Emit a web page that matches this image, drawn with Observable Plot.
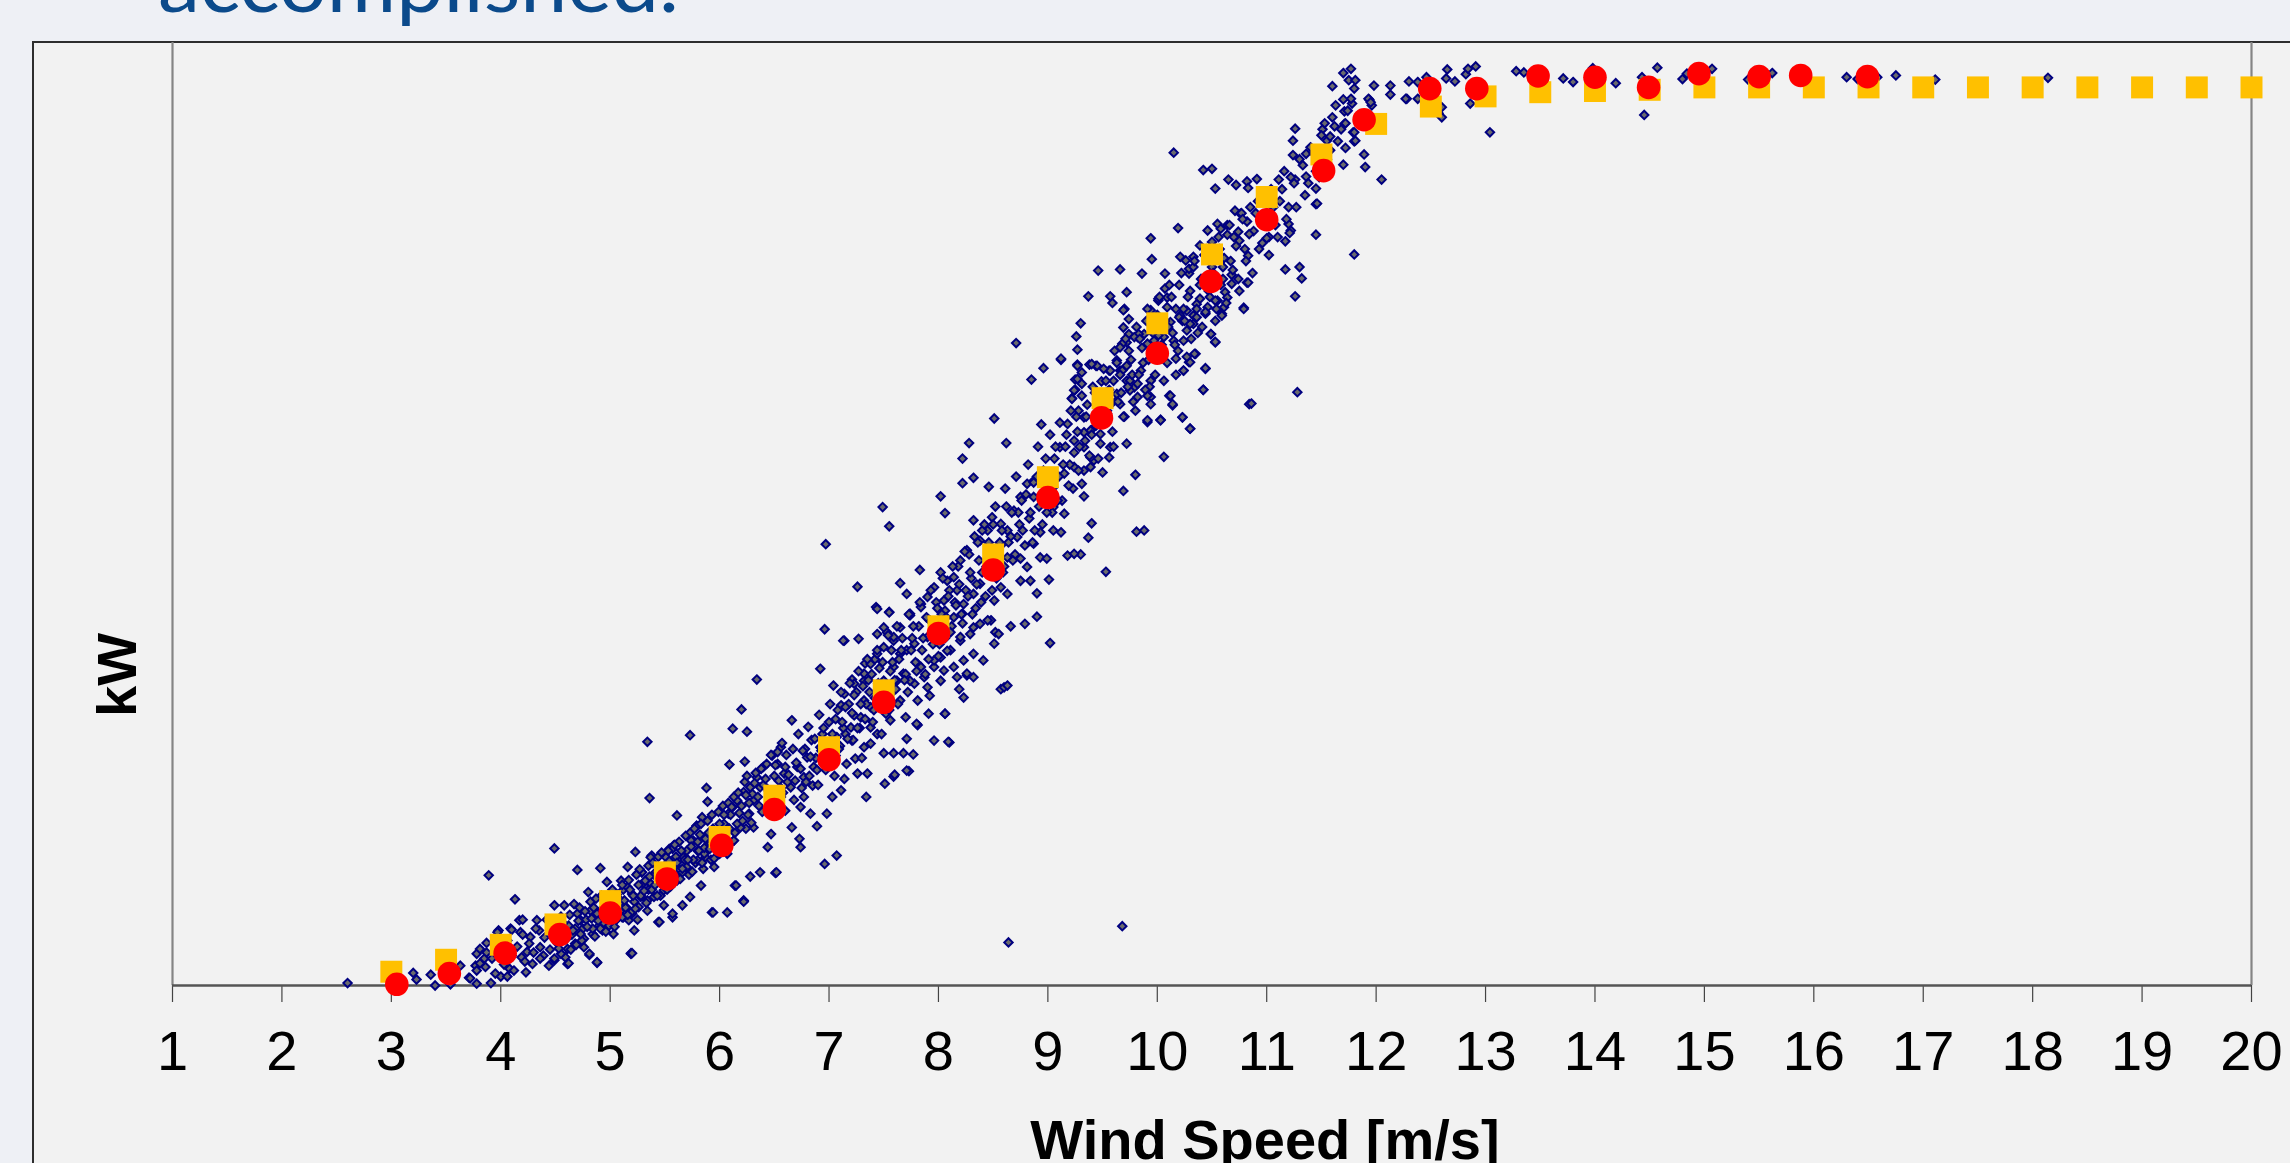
<!DOCTYPE html>
<html>
<head>
<meta charset="utf-8">
<script src="https://cdn.jsdelivr.net/npm/d3@7"></script>
<script src="https://cdn.jsdelivr.net/npm/@observablehq/plot@0.6"></script>
<style>
  html, body { margin: 0; padding: 0; width: 2290px; height: 1163px; overflow: hidden; background: #eef0f5; }
  #box { position: absolute; left: 32px; top: 41px; width: 2300px; height: 1200px; background: #f2f2f2;
         border-left: 2px solid #2e2e2e; border-top: 2px solid #2e2e2e; }
  #chart { position: absolute; left: 0; top: 0; }
  #overlay { position: absolute; left: 0; top: 0; pointer-events: none; }
</style>
</head>
<body>
<div id="box"></div>
<div id="chart"></div>
<svg id="overlay" width="2290" height="1163">
  <text x="158" y="12" font-family="Lato, 'Open Sans', sans-serif" font-size="80" fill="#0b4a8b" textLength="521" lengthAdjust="spacingAndGlyphs">accomplished.</text>
  <text x="1265" y="1159" text-anchor="middle" font-family="'Liberation Sans', Arial, sans-serif" font-weight="bold" font-size="56" fill="#000">Wind Speed [m/s]</text>
  <text transform="translate(136,675) rotate(-90)" text-anchor="middle" font-family="'Liberation Sans', Arial, sans-serif" font-weight="bold" font-size="56" fill="#000">kW</text>
</svg>
<script>
// x-axis ticks
const xTicks = [1,2,3,4,5,6,7,8,9,10,11,12,13,14,15,16,17,18,19,20];

// reference (guaranteed) power curve – yellow squares
const refSpeed = [3,3.5,4,4.5,5,5.5,6,6.5,7,7.5,8,8.5,9,9.5,10,10.5,11,11.5,12,12.5,13,13.5,14,14.5,15,15.5,16,16.5,17,17.5,18,18.5,19,19.5,20];
const refPower = [23,43,68,102,141,189,248,317,398,493,600,720,849,981,1106,1221,1317,1388,1439,1468,1485,1492,1494,1496,1500,1500,1500,1500,1500,1500,1500,1500,1500,1500,1500];

// measured bin averages – red circles
const binSpeed = [3.05,3.53,4.04,4.54,5.0,5.52,6.02,6.5,7.0,7.5,8.0,8.5,9.0,9.49,10.0,10.49,11.0,11.52,11.89,12.49,12.92,13.48,14.0,14.49,14.95,15.5,15.88,16.49];
const binPower = [2,20,54,85,121,178,234,294,377,473,588,694,815,948,1056,1176,1279,1361,1446,1498,1498,1519,1517,1500,1523,1518,1520,1518];

// individual 10-minute measurements – [wind speed, kW]
const measurements = [
[2.60,4],[3.20,21],[3.23,10],[3.36,18],[3.40,0],[3.54,2],[3.63,33],[3.71,13],[3.72,12],[3.78,3],[3.78,53],[3.81,61],[3.87,71],[3.77,33],[3.86,31],[3.89,184],[3.91,4],[3.98,92],[4.00,15],[4.06,15],[4.08,28],[4.09,95],[4.13,144],[4.17,109],[4.18,89],[4.19,47],[4.23,22],[4.24,56],[4.27,81],[4.29,36],[4.33,109],[4.35,92],[4.36,64],[4.39,50],[4.44,33],[4.49,134],[4.49,229],[4.49,42],[4.58,134],[4.59,47],[4.61,36],[4.67,136],[4.70,193],[4.73,109],[4.76,64],[4.80,156],[4.81,51],[4.82,125],[4.88,38],[4.91,196],[4.93,92],[4.97,173],[5.03,86],[5.05,109],[5.12,114],[5.17,109],[5.19,53],[5.20,153],[5.22,92],[5.23,223],[5.25,187],[5.28,148],[5.29,189],[5.34,125],[5.37,170],[5.38,217],[5.44,106],[5.46,150],[5.49,134],[5.54,228],[5.57,114],[5.58,234],[5.66,134],[5.67,214],[5.70,192],[5.73,148],[5.76,242],[5.79,267],[5.83,167],[5.87,214],[5.93,122],[5.95,198],[6.07,122],[6.13,242],[6.14,167],[6.22,142],[6.24,262],
[3.78,25],[3.81,37],[3.85,45],[3.87,55],[3.97,89],[4.10,93],[4.20,110],[4.62,37],[4.88,39],[5.19,54],[5.94,122],[6.22,141],
[5.30,170],[5.35,160],[5.40,185],[5.45,175],[5.50,195],[5.55,165],[5.60,200],[5.62,180],[5.68,210],[5.72,185],[5.78,205],[5.80,225],[5.85,195],[5.90,230],[5.92,210],[5.97,240],[6.00,220],[5.10,140],[5.15,130],[5.20,120],[5.12,160],[5.25,110],[4.95,115],[4.90,100],[4.85,130],[4.75,95],[4.70,120],[4.65,85],[4.55,75],[4.50,100],
[5.34,407],[5.36,313],[5.73,418],[5.61,284],[5.16,198],[5.20,54],[4.81,53],[5.45,106],[5.57,120],[6.22,140],[6.34,511],[6.20,461],[6.12,429],[6.25,424],[6.09,369],[6.23,374],[5.88,330],[5.89,307],[5.79,266],[5.84,281],[5.74,242],[5.57,228],[5.51,214],[5.37,214],[5.29,189],[5.16,164],[6.15,167],[6.28,182],[6.37,189],[6.51,188],[6.44,231],[6.66,443],[6.92,529],[6.96,595],[7.14,576],[7.27,579],[7.04,501],[7.33,538],[7.21,511],[7.11,468],[6.95,370],[7.06,384],[6.98,287],[7.07,217],[6.96,203],[6.89,266],[6.74,231],[6.73,245],[6.52,189],[7.34,315],[7.51,337],[7.59,349],[7.73,358],[7.77,386],[7.68,388],[7.59,388],[7.50,388],[7.71,412],[7.81,435],[7.91,454],[8.06,454],[8.10,406],[8.19,495],[7.92,484],[8.26,518],[8.52,590],[8.57,495],[8.48,610],[8.06,626],[8.22,621],[8.32,554],[8.05,526],[7.81,537],[7.71,560],[7.59,576],[7.53,590],[7.43,632],[7.55,624],[7.74,621],[7.84,637],[7.32,509],[7.42,545],[7.47,498],[7.52,454],[7.38,431],[7.32,476],[7.23,451],[7.15,420],[7.38,404],[7.24,379],[7.14,345],[7.11,326],[7.03,315],[6.85,334],[6.77,315],[6.74,298],[6.60,292],[6.59,354],[6.53,370],[6.56,398],[6.48,384],[6.40,365],[6.34,348],[6.28,331],[6.22,323],[6.16,309],[6.12,298],[6.08,287],[6.04,270],[6.01,253],[5.98,245],[5.92,237],[5.86,220],[5.80,209],[5.70,198],[5.66,189],[5.61,175],[5.55,167],[5.49,159],[5.40,148],[5.34,142],[5.26,131],[5.19,122],[5.11,114],[5.05,109],[4.99,100],[4.91,95],[4.84,86],[4.76,78],[4.68,70],[4.61,61],[4.55,53],[4.49,45],
[6.65,331],[6.71,365],[6.80,381],[6.86,365],[6.92,398],[6.83,287],[6.66,264],[6.47,253],[6.44,298],[6.37,331],[6.31,309],[6.27,287],[6.19,264],[6.13,242],[6.07,220],[6.31,264],[6.56,315],[6.77,348],[6.98,404],[7.07,415],[7.20,431],[7.29,448],[7.38,465],[7.47,476],[7.56,487],[7.62,509],[7.68,521],[7.78,504],[7.87,515],[7.96,532],[8.02,548],[8.11,560],[8.20,576],[8.29,587],[8.38,604],[7.81,476],[7.90,498],[7.65,476],[7.56,443],[7.44,420],[7.32,398],[7.21,409],[7.26,354],[7.35,354],[7.70,448],[7.96,409],[8.23,481],[8.32,515],[8.41,543],[8.51,571],[8.23,543],[8.14,532],
[6.97,737],[7.49,799],[7.55,767],[7.26,666],[7.13,576],[7.44,629],[7.55,623],[7.65,672],[7.83,694],[8.02,817],[8.06,789],[8.22,880],[8.28,906],[8.22,839],[8.32,848],[8.46,833],[8.51,947],[8.62,906],[8.71,1073],[8.85,1012],[8.96,1031],[8.94,937],[9.12,1045],[9.26,1084],[9.30,1106],[9.27,1062],[9.27,1037],[9.25,1012],[9.25,995],[9.22,981],[9.38,1037],[9.44,1035],[9.56,1027],[9.60,1010],[9.49,1009],[9.63,1044],[9.66,1027],[9.69,1099],[9.74,1113],[9.74,1088],[9.70,1130],[9.82,1083],[9.88,1088],[9.94,1128],[10.01,1144],[10.09,1133],[10.21,1119],[10.27,1127],[10.33,1105],[10.44,1122],[10.55,1144],[10.59,1122],[10.79,1132],[10.49,1088],[10.53,1074],[10.35,1055],[10.29,1041],[10.24,1027],[10.17,1020],[10.44,1030],[10.42,995],[10.11,985],[10.23,949],[10.30,930],[10.03,945],[9.91,941],[10.06,883],[9.80,853],[9.69,826],[9.81,758],[9.88,760],[10.84,971],[10.14,969],[9.94,983],[9.79,999],[9.72,1010],[9.63,977],[9.54,960],[9.72,905],[9.56,882],[9.57,899],[9.50,857],[9.42,877],[9.33,899],[9.24,910],[9.11,899],[9.18,938],[9.33,924],[9.39,882],[9.33,817],[9.40,772],[9.37,748],[9.18,718],[9.30,720],[9.24,721],[9.53,691],[9.01,678],[8.90,616],[9.02,572],[8.79,604],[8.66,600],[8.60,498],[8.63,501],[8.55,587],[8.90,655],[8.84,676],[8.81,699],[8.75,713],[8.63,715],[8.57,735],[8.93,715],[8.99,713],[9.05,760],[9.12,757],[8.93,757],[8.87,738],[8.72,749],[8.69,793],[8.75,816],[8.81,838],[8.87,843],[9.05,799],[9.15,788],[9.05,832],[9.15,855],[9.24,866],[9.31,838],[9.39,866],[8.87,816],[8.63,760],[8.57,771],[8.45,760],[8.38,743],[8.32,777],[8.40,760],[8.49,782],[8.26,727],[8.20,710],[8.14,682],[8.08,676],[8.02,690],[7.96,665],[7.90,649],[7.84,632],[7.74,618],[7.65,598],[7.59,582],[7.50,565],[7.44,554],[7.38,537],[7.32,521],[7.23,504],[7.14,487],[7.65,554],[7.78,571],[7.90,582],[8.02,604],[8.14,615],[8.23,637],[8.32,654],[8.38,671],[8.17,660],[8.05,643],[7.84,532],[7.96,543],[8.08,559],[8.20,582],[8.32,598],[8.45,610],[8.51,643],[8.63,654],[8.75,676],[8.57,665],[8.02,509],[8.17,515],[8.26,521],[7.59,532],[7.50,509],[7.74,509],[7.44,587],[7.71,654],[7.50,598],
[8.64,72],[9.68,99],[8.09,407],[8.06,454],[7.80,437],[7.71,359],[7.60,352],
[9.12,1047],[9.37,1151],[9.46,1194],[9.66,1196],[9.86,1189],[9.57,1151],[9.59,1140],[9.72,1158],[9.69,1128],[9.94,1248],[9.95,1213],[10.07,1189],[10.07,1164],[10.01,1147],[10.09,1149],[10.15,1391],[10.19,1265],[10.21,1217],[10.26,1211],[10.33,1217],[10.29,1189],[10.29,1197],[10.42,1362],[10.50,1364],[10.53,1331],[10.39,1236],[10.46,1261],[10.55,1272],[10.58,1264],[10.64,1254],[10.50,1242],[10.60,1200],[10.68,1187],[10.65,1346],[10.72,1337],[10.82,1343],[10.91,1347],[10.83,1332],[10.71,1294],[10.76,1289],[10.82,1276],[10.74,1259],[10.75,1244],[10.83,1219],[10.68,1172],[10.82,1174],[10.62,1158],[10.64,1149],[10.59,1119],[10.53,1144],[10.46,1133],[10.46,1166],[10.39,1147],[10.36,1138],[10.33,1119],[10.30,1105],[10.44,1125],[10.36,1116],[10.27,1094],[10.34,1055],[10.30,1041],[10.24,1077],[10.24,1027],[10.17,1047],[10.15,1077],[10.06,1083],[10.01,1086],[9.97,1077],[9.91,1072],[9.83,1088],[9.79,1083],[9.72,1074],[9.68,1072],[9.66,1066],[9.72,1035],[9.68,1027],[9.57,1027],[9.45,1035],[9.40,1038],[9.31,1024],[9.27,1035],[9.27,1013],[9.31,1005],[9.24,994],[9.22,980],[9.28,960],[9.33,949],[9.39,927],[9.48,921],[9.63,988],[9.66,971],[9.75,994],[9.82,983],[9.91,985],[9.94,971],[9.82,1005],[9.75,1010],[9.85,1027],[9.94,1010],[10.03,944],[9.91,944],[10.12,985],[10.14,971],[10.23,949],[10.30,930],[10.42,995],[10.44,1031],[10.53,1075],[10.49,1088],[10.20,1116],[10.24,1130],[10.12,1108],[10.86,972],[11.28,991],[11.26,1151],[11.30,1200],[11.32,1181],[11.17,1196],[10.79,1130],[10.61,1133],[10.83,1174],[11.02,1250],[11.00,1248],[11.17,1243],[11.20,1272],[11.22,1261],[11.21,1257],[11.45,1254],[11.45,1305],[11.45,1331],[11.26,1346],[11.36,1351],[11.11,1346],[11.24,1387],[11.24,1411],[11.26,1431],[11.51,1430],[11.55,1411],[11.58,1418],[11.62,1435],[11.70,1371],[11.72,1399],[11.80,1221],[11.89,1388],[11.90,1367],[12.05,1346],[11.80,1410],[11.79,1425],[11.71,1439],[11.71,1460],[11.74,1461],[11.78,1473],[11.77,1481],[11.75,1512],[11.70,1524],[11.77,1531],[11.81,1512],[11.80,1498],[11.60,1502],[11.94,1479],[11.96,1470],[11.98,1503],[12.13,1503],[12.13,1488],[12.28,1481],[12.30,1510],[12.38,1481],[12.46,1517],[12.57,1457],[12.60,1450],[12.64,1515],[12.65,1530],[12.72,1510],[12.82,1522],[12.84,1531],[12.91,1535],[12.86,1473],[13.04,1425],[11.46,1306],[11.36,1389],[11.72,1440],[11.80,1425],[11.81,1411],[11.93,1481],[11.95,1475],[12.38,1509],[12.27,1481],[12.60,1467],
[13.28,1527],[13.35,1525],[13.71,1515],[13.80,1509],[13.98,1532],[14.19,1507],[14.43,1517],[14.45,1454],[14.57,1533],[14.80,1514],[14.84,1523],[15.07,1531],[15.40,1513],[15.62,1524],[16.30,1517],[16.40,1514],[16.58,1517],[16.75,1520],[17.11,1513],[18.14,1516],
[6.62,340],[6.68,310],[6.70,372],[6.75,330],[6.78,395],[6.82,350],[6.84,410],[6.88,380],[6.90,335],[6.94,420],[6.97,360],[7.00,440],[7.02,390],[7.05,350],[7.08,460],[7.10,400],[7.13,430],[7.16,370],[7.18,470],[7.22,410],[7.25,490],[7.28,430],[7.30,380],[7.34,470],[7.36,510],[7.40,440],[7.42,480],[7.46,530],[7.48,420],[7.52,500],[7.55,460],[7.58,540],[7.60,510],[7.63,470],[7.66,560],[7.70,520],[7.72,490],[7.76,580],[7.79,540],[7.82,600],[7.85,560],[7.88,520],[7.92,610],[7.95,570],[7.98,640],[8.00,550],[8.03,620],[8.06,580],[8.10,660],[8.12,600],[8.15,640],[8.18,700],[8.21,620],[8.25,660],[8.28,720],[8.30,680],[8.34,630],[8.36,740],[8.40,690],[8.43,650],[8.47,720],[8.50,770],[8.53,680],[8.56,740],[8.60,700],[8.62,800],[8.66,750],[8.70,720],[8.73,790],[8.77,760],[8.80,820],[8.83,780],[8.86,740],[8.90,850],[8.92,800],[8.95,770],[8.98,880],[9.01,830],[9.04,790],[9.07,900],[9.10,850],[9.13,810],[9.17,920],[9.20,870],[9.23,830],[9.26,950],[9.29,900],[9.33,860],[9.36,970],[9.40,920],[9.43,990],[9.46,880],[9.50,950],[9.53,1010],[9.57,970],[9.60,900],[9.63,1040],[9.67,990],[9.70,950],[9.74,1060],[9.77,1020],[9.80,960],[9.84,1080],[9.87,1040],[9.90,1110],[9.93,1000],[9.97,1060],[10.00,1120],[10.03,1050],[10.06,1010],[10.10,1100],[10.13,1150],[10.16,1070],[10.20,1170],[10.23,1110],[10.27,1050],[10.30,1160],[10.33,1200],[10.37,1090],[10.40,1180],[10.43,1220],[10.47,1160],[10.50,1200],[10.54,1130],[10.57,1230],[10.60,1180],[10.64,1270],[10.67,1210],[10.70,1250],[10.74,1180],[10.77,1290],[10.80,1230],[10.85,1300],[10.88,1260],[10.92,1310],[10.96,1240],[11.00,1290],[11.04,1330],[11.08,1270],[11.12,1310],[11.16,1360],[11.20,1300],[11.25,1340],[11.30,1380],[11.35,1320],[11.40,1400],[11.45,1360],[11.50,1420],[11.55,1380],[11.60,1450],[11.65,1410],[11.70,1480],
[3.92,45],[3.95,20],[4.00,60],[4.03,35],[4.06,75],[4.10,50],[4.12,25],[4.15,65],[4.20,85],[4.22,40],[4.26,70],[4.30,55],[4.32,95],[4.36,45],[4.40,80],[4.42,110],[4.45,60],[4.48,90],[4.52,70],[4.55,115],[4.58,85],[4.62,100],[4.64,60],[4.68,95],[4.72,130],[4.74,75],[4.78,110],[4.82,140],[4.84,95],[4.88,120],[4.92,150],[4.94,105],[4.98,135],[5.02,160],[5.05,120],[5.08,145],[5.10,175],[5.14,130],[5.18,160],[5.22,140],[5.24,185],[5.28,150],[5.32,175],[5.35,200],[5.38,160],[5.42,190],[5.44,215],[5.48,170],[5.50,200],[5.53,225],[5.56,185],[5.60,215],[5.63,240],[5.66,195],[5.70,225],[5.73,255],[5.76,210],[5.80,240],[5.83,270],[5.86,230],[5.90,255],[5.93,285],[5.96,240],[6.00,270],[6.03,300],[6.06,255],[6.10,285],[6.13,315],[6.16,270],[6.20,300],[6.23,340],[6.26,285],[6.30,320],[6.33,355],[6.36,300],[6.40,335],[6.43,370],[6.46,310],[6.50,350],[6.53,390],[6.56,330],[6.60,365],
[4.51,88],[4.53,62],[4.57,104],[4.60,78],[4.63,118],[4.66,92],[4.69,68],[4.71,108],[4.73,86],[4.77,124],[4.79,98],[4.83,112],[4.86,82],[4.87,145],[4.89,108],[4.93,128],[4.96,90],[4.97,148],[5.00,112],[5.01,138],[5.04,98],[5.06,152],[5.09,124],[5.11,168],[5.13,142],[5.16,118],[5.17,176],[5.21,150],[5.23,128],[5.26,168],[5.27,194],[5.31,158],[5.33,138],[5.36,182],[5.39,205],[5.41,168],[5.43,150],[5.46,195],[5.47,222],[5.51,182],[5.52,160],[5.54,208],[5.58,190],[5.59,235],[5.61,205],[5.64,178],[5.65,225],[5.69,250],[5.71,210],[5.74,232],[5.75,190],[5.77,262],[5.81,225],[5.82,252],[5.84,205],[5.87,245],[5.89,275],[5.91,228],[5.94,262],[5.95,212],[5.99,290],[6.02,250],[6.04,285],[6.05,232],[6.08,305],[6.09,262],[6.11,298],[6.14,255],[6.17,322],[6.18,288],[6.21,275],[6.24,318],[6.25,350],[6.27,305],[6.29,272],[6.32,338],[6.35,315],[6.38,362],[6.39,290],[6.42,345],[6.45,325],[6.47,385],[6.49,302],[6.51,368],[6.54,342],[6.57,405],[6.58,322],[6.61,385],[6.63,352],[6.67,395],[6.69,342],[6.72,420],[6.74,362],[6.76,392],[6.79,340],[6.81,432],[6.83,382],[6.87,412],[6.89,360],[6.91,452],[6.93,392],[6.95,430],[6.99,378],[7.01,470],[7.03,420],[7.06,445],[7.09,395],[7.11,490],[7.12,440],[7.15,465],[7.17,412],[7.19,505],[7.21,455],[7.23,485],[7.26,430],[7.27,525],[7.29,470],[7.31,500],[7.33,445],[7.35,545],[7.37,490],[7.39,520],[7.41,460],[7.44,560],[7.45,505],[7.49,540],[7.51,480],[7.54,585],[7.56,525],[7.57,560],[7.61,495],[7.62,600],[7.64,545],[7.67,580],[7.69,510],[7.73,620],[7.75,560],[7.77,600],[7.80,525],[7.83,640],[7.86,580],[7.89,615],[7.91,545],[7.93,660],[7.97,600],[7.99,630],[8.01,570],[8.04,680],[8.07,615],[8.09,650],[8.11,590],[8.13,700],[8.16,635],[8.19,670],[8.22,605],[8.24,725],[8.27,650],[8.29,690],[8.31,620],[8.33,750],[8.35,670],[8.37,710],[8.39,640],[8.42,770],[8.44,700],[8.46,740],[8.49,660],[8.52,800],[8.54,720],[8.58,760],[8.59,690],[8.61,830],[8.64,740],[8.67,790],[8.68,710],[8.71,850],[8.74,770],[8.76,810],[8.79,735],[8.82,870],[8.84,790],[8.87,840],[8.88,760],[8.91,900],[8.94,820],[8.96,860],[8.99,790],[9.02,920],[9.03,845],[9.06,880],[9.09,810],[9.11,940],[9.14,870],[9.16,900],[9.19,835],[9.21,960],[9.24,890],[9.27,925],[9.28,860],[9.31,985],[9.34,910],[9.35,950],[9.38,885],[9.41,1000],[9.44,935],[9.47,970],[9.48,905],[9.51,1030],[9.54,955],[9.56,995],[9.59,925],[9.61,1060],[9.64,975],[9.66,1020],[9.69,950],[9.71,1080],[9.73,1000],[9.76,1045],[9.78,975],[9.81,1100],[9.83,1020],[9.86,1065],[9.89,995],[9.91,1130],[9.92,1045],[9.96,1090],[9.98,1020],[10.02,1150],[10.04,1070],[10.07,1110],[10.09,1040],[10.11,1170],[10.14,1090],[10.17,1130],[10.19,1060],[10.22,1190],[10.25,1110],[10.28,1150],[10.31,1080],[10.34,1210],[10.36,1130],[10.39,1170],[10.41,1100],[10.45,1230],[10.48,1150],[10.51,1190],[10.53,1110],[10.56,1250],[10.58,1170],[10.61,1215],[10.63,1140],[10.66,1270],[10.69,1195],[10.72,1235],[10.75,1160],[10.78,1280],[10.81,1210],[10.84,1255],[10.87,1190],[10.90,1290],[10.93,1230],[10.97,1275],[11.02,1220],[11.06,1300],[11.10,1250],[11.14,1330],[11.18,1280],[11.22,1350],[11.27,1300],[11.33,1370],[11.38,1340],[11.43,1390],[11.48,1350],[11.53,1440],[11.58,1395],[11.63,1470],[11.68,1430]
];

const refCurve = refSpeed.map((s, i) => ({speed: s, power: refPower[i]}));
const binned = binSpeed.map((s, i) => ({speed: s, power: binPower[i]}));
const scatter = measurements.map(([s, p]) => ({speed: s, power: p}));

const chart = Plot.plot({
  width: 2290,
  height: 1163,
  marginLeft: 172,
  marginRight: 39,
  marginTop: 42,
  marginBottom: 178,
  style: {background: "transparent", fontFamily: "'Liberation Sans', Arial, sans-serif", color: "#000", overflow: "visible"},
  x: {domain: [1, 20]},
  y: {domain: [0, 1575], axis: null},
  marks: [
    Plot.ruleX([1, 20], {stroke: "#858585", strokeWidth: 2.2}),
    Plot.axisX({ticks: xTicks, tickFormat: d => String(d), tickSize: 17, tickPadding: 28, fontSize: 56, stroke: "#444", strokeWidth: 1.2, label: null}),
    Plot.ruleY([0], {stroke: "#555", strokeWidth: 2.5}),
    Plot.dot(scatter, {x: "speed", y: "power", symbol: "diamond2", r: 3.8, fill: "#6b6b6b", stroke: "#000080", strokeWidth: 2}),
    Plot.dot(refCurve, {x: "speed", y: "power", symbol: "square", r: 12.4, fill: "#ffc000", stroke: "none"}),
    Plot.dot(binned, {x: "speed", y: "power", r: 11.8, fill: "#ff0000", stroke: "none"})
  ]
});
document.getElementById("chart").appendChild(chart);
</script>
</body>
</html>
